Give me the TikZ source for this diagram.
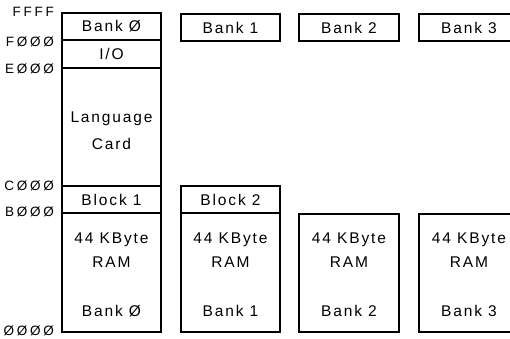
\documentclass[tikz,border=0pt]{standalone}
\usepackage{fontspec}
\setmainfont{Liberation Sans}
\newfontfamily\memfont[LetterSpace=12]{Liberation Sans}
\newfontfamily\adrfont[LetterSpace=20]{Liberation Sans}
\usetikzlibrary{positioning}

\begin{document}
\begin{tikzpicture}[x=1pt,y=-1pt,
  cell/.style={rectangle, draw=black, line width=1.5pt, inner sep=0pt,
    minimum width=99pt, font=\memfont\fontsize{15.5}{24}\selectfont, align=center},
  memtext/.style={font=\memfont\fontsize{15.5}{24}\selectfont, align=center, inner sep=0pt},
  addr/.style={font=\adrfont\fontsize{13.5}{14}\selectfont, anchor=east, inner sep=0pt}
]
\useasboundingbox (0,0) rectangle (510,338);
\clip (0,0) rectangle (510,338);

% address labels
\node[addr] (aFFFF) at (54,12) {FFFF};
\node[addr] (aF000) at (54,42) {FØØØ};
\node[addr] (aE000) at (54,69) {EØØØ};
\node[addr] (aC000) at (54,186) {CØØØ};
\node[addr] (aB000) at (54,212) {BØØØ};
\node[addr] (a0000) at (54,331) {ØØØØ};

% bank 0 column
\node[cell, minimum height=27pt] (top0) at (111.5,26.5) {Bank Ø};
\node[cell, minimum height=28pt] (io) at (111.5,54) {I/O};
\node[cell, minimum height=118pt] (lc) at (111.5,127) {};
\node[memtext, font=\memfont\fontsize{15.5}{27}\selectfont] (lctext) at (111.5,131) {Language\\Card};
\node[cell, minimum height=27pt] (blk1) at (111.5,199.5) {Block 1};
\node[cell, minimum height=119pt] (ram0) at (111.5,272.5) {};
\node[memtext] (ramtxt0) at (111.5,250) {44 KByte\\RAM};
\node[memtext] (bank0) at (111.5,311) {Bank Ø};

% bank 1 column
\node[cell, minimum height=27pt] (top1) at (230.5,27.5) {Bank 1};
\node[cell, minimum height=27pt] (blk2) at (230.5,199.5) {Block 2};
\node[cell, minimum height=119pt] (ram1) at (230.5,272.5) {};
\node[memtext] (ramtxt1) at (230.5,250) {44 KByte\\RAM};
\node[memtext] (bank1) at (230.5,311) {Bank 1};

% bank 2 column
\node[cell, minimum height=27pt, minimum width=100pt] (top2) at (349,27.5) {Bank 2};
\node[cell, minimum height=118pt, minimum width=100pt] (ram2) at (349,273) {};
\node[memtext] (ramtxt2) at (349,250) {44 KByte\\RAM};
\node[memtext] (bank2) at (349,311) {Bank 2};

% bank 3 column
\node[cell, minimum height=27pt, minimum width=100pt] (top3) at (469,27.5) {Bank 3};
\node[cell, minimum height=118pt, minimum width=100pt] (ram3) at (469,273) {};
\node[memtext] (ramtxt3) at (469,250) {44 KByte\\RAM};
\node[memtext] (bank3) at (469,311) {Bank 3};

\end{tikzpicture}
\end{document}
